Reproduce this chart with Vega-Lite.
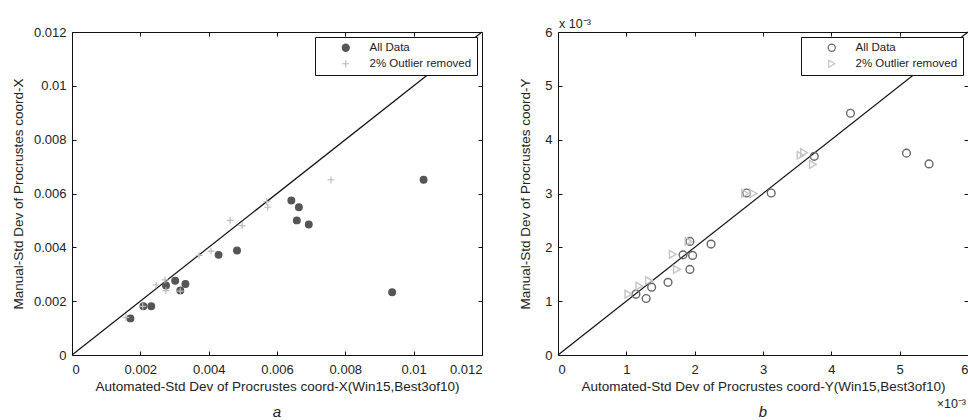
{
  "$schema": "https://vega.github.io/schema/vega-lite/v6.json",
  "padding": {"left": 10, "top": 17, "right": 0, "bottom": 0},
  "background": "white",
  "bounds": "flush",
  "spacing": 76,
  "config": {
    "font": "Liberation Sans",
    "view": {"stroke": "#111", "strokeWidth": 1},
    "axis": {
      "grid": false,
      "domain": false,
      "tickSize": -4,
      "tickColor": "#111",
      "labelFont": "Liberation Sans",
      "labelFontSize": 13,
      "labelColor": "#222",
      "titleFont": "Liberation Sans",
      "titleFontSize": 13.5,
      "titleFontWeight": "normal",
      "titleColor": "#222",
      "format": "~g"
    },
    "axisX": {"labelPadding": 12, "titlePadding": 3},
    "axisY": {"labelPadding": 10, "titlePadding": 8},
    "legend": {
      "orient": "top-right",
      "offset": 5,
      "strokeColor": "#111",
      "fillColor": "white",
      "padding": 5,
      "rowPadding": 3,
      "labelFont": "Liberation Sans",
      "labelFontSize": 11.5,
      "labelColor": "#222",
      "symbolSize": 50,
      "symbolStrokeWidth": 1.2,
      "symbolOffset": 20,
      "labelOffset": 18,
      "cornerRadius": 0
    }
  },
  "hconcat": [
    {
      "width": 410,
      "height": 323,
      "layer": [
        {
          "data": {"values": [{}]},
          "mark": {"type": "rule", "color": "#111", "strokeWidth": 1.2},
          "encoding": {
            "x": {"datum": 0, "type": "quantitative", "scale": {"domain": [0, 0.012], "nice": false},
                  "axis": {"orient": "top", "labels": false, "title": null, "values": [0, 0.002, 0.004, 0.006, 0.008, 0.01, 0.012]}},
            "y": {"datum": 0, "type": "quantitative", "scale": {"domain": [0, 0.012], "nice": false},
                  "axis": {"orient": "right", "labels": false, "title": null, "values": [0, 0.002, 0.004, 0.006, 0.008, 0.01, 0.012]}},
            "x2": {"datum": 0.012},
            "y2": {"datum": 0.012}
          }
        },
        {
          "data": {"values": [{}]},
          "mark": {"type": "text", "align": "center", "baseline": "middle", "dy": 57, "fontSize": 15, "fontStyle": "italic", "color": "#222", "font": "Liberation Sans"},
          "encoding": {
            "x": {"datum": 0.006, "type": "quantitative", "axis": null},
            "y": {"datum": 0, "type": "quantitative", "axis": null},
            "text": {"value": "a"}
          }
        },
        {
          "data": {"values": [
            {"series": "All Data", "x": 0.00171, "y": 0.00136},
            {"series": "All Data", "x": 0.00209, "y": 0.00181},
            {"series": "All Data", "x": 0.00232, "y": 0.00181},
            {"series": "All Data", "x": 0.00275, "y": 0.00258},
            {"series": "All Data", "x": 0.00302, "y": 0.00276},
            {"series": "All Data", "x": 0.00317, "y": 0.0024},
            {"series": "All Data", "x": 0.00332, "y": 0.00264},
            {"series": "All Data", "x": 0.00429, "y": 0.00372},
            {"series": "All Data", "x": 0.00483, "y": 0.00388},
            {"series": "All Data", "x": 0.00642, "y": 0.00574},
            {"series": "All Data", "x": 0.00664, "y": 0.00549},
            {"series": "All Data", "x": 0.00658, "y": 0.005},
            {"series": "All Data", "x": 0.00693, "y": 0.00485},
            {"series": "All Data", "x": 0.00937, "y": 0.00233},
            {"series": "All Data", "x": 0.01029, "y": 0.00651},
            {"series": "2% Outlier removed", "x": 0.00158, "y": 0.0014},
            {"series": "2% Outlier removed", "x": 0.00207, "y": 0.00181},
            {"series": "2% Outlier removed", "x": 0.00246, "y": 0.0026},
            {"series": "2% Outlier removed", "x": 0.00272, "y": 0.00279},
            {"series": "2% Outlier removed", "x": 0.00275, "y": 0.00239},
            {"series": "2% Outlier removed", "x": 0.00317, "y": 0.00237},
            {"series": "2% Outlier removed", "x": 0.00372, "y": 0.0037},
            {"series": "2% Outlier removed", "x": 0.00407, "y": 0.00386},
            {"series": "2% Outlier removed", "x": 0.00463, "y": 0.005},
            {"series": "2% Outlier removed", "x": 0.00498, "y": 0.00481},
            {"series": "2% Outlier removed", "x": 0.0057, "y": 0.0057},
            {"series": "2% Outlier removed", "x": 0.00573, "y": 0.00549},
            {"series": "2% Outlier removed", "x": 0.00758, "y": 0.00651}
          ]},
          "mark": {"type": "point", "opacity": 1, "strokeWidth": 1.2},
          "encoding": {
            "x": {"field": "x", "type": "quantitative", "scale": {"domain": [0, 0.012], "nice": false},
                  "axis": {"title": "Automated-Std Dev of Procrustes coord-X(Win15,Best3of10)", "values": [0, 0.002, 0.004, 0.006, 0.008, 0.01, 0.012]}},
            "y": {"field": "y", "type": "quantitative", "scale": {"domain": [0, 0.012], "nice": false},
                  "axis": {"title": "Manual-Std Dev of Procrustes coord-X", "values": [0, 0.002, 0.004, 0.006, 0.008, 0.01, 0.012]}},
            "fill": {"field": "series", "type": "nominal",
                     "scale": {"domain": ["All Data", "2% Outlier removed"], "range": ["#555555", "transparent"]},
                     "legend": {"title": null}},
            "stroke": {"field": "series", "type": "nominal",
                       "scale": {"domain": ["All Data", "2% Outlier removed"], "range": ["#555555", "#bbbbbb"]},
                       "legend": {"title": null}},
            "shape": {"field": "series", "type": "nominal",
                      "scale": {"domain": ["All Data", "2% Outlier removed"], "range": ["circle", "M-1,0L1,0M0,-1L0,1"]},
                      "legend": {"title": null}},
            "size": {"value": 45}
          }
        }
      ],
      "resolve": {"axis": {"x": "independent", "y": "independent"}}
    },
    {
      "width": 410,
      "height": 323,
      "layer": [
        {
          "data": {"values": [{}]},
          "mark": {"type": "rule", "color": "#111", "strokeWidth": 1.2},
          "encoding": {
            "x": {"datum": 0, "type": "quantitative", "scale": {"domain": [0, 6], "nice": false},
                  "axis": {"orient": "top", "labels": false, "title": null, "values": [0, 1, 2, 3, 4, 5, 6]}},
            "y": {"datum": 0, "type": "quantitative", "scale": {"domain": [0, 6], "nice": false},
                  "axis": {"orient": "right", "labels": false, "title": null, "values": [0, 1, 2, 3, 4, 5, 6]}},
            "x2": {"datum": 6},
            "y2": {"datum": 6}
          }
        },
        {
          "data": {"values": [{}]},
          "mark": {"type": "text", "align": "left", "baseline": "middle", "dy": -8, "dx": 1, "fontSize": 12.5, "color": "#222", "font": "Liberation Sans"},
          "encoding": {
            "x": {"datum": 0, "type": "quantitative", "axis": null},
            "y": {"datum": 6, "type": "quantitative", "axis": null},
            "text": {"value": "x 10⁻³"}
          }
        },
        {
          "data": {"values": [{}]},
          "mark": {"type": "text", "align": "right", "baseline": "middle", "dy": 49, "dx": -2, "fontSize": 12.5, "color": "#222", "font": "Liberation Sans"},
          "encoding": {
            "x": {"datum": 6, "type": "quantitative", "axis": null},
            "y": {"datum": 0, "type": "quantitative", "axis": null},
            "text": {"value": "×10⁻³"}
          }
        },
        {
          "data": {"values": [{}]},
          "mark": {"type": "text", "align": "center", "baseline": "middle", "dy": 57, "fontSize": 15, "fontStyle": "italic", "color": "#222", "font": "Liberation Sans"},
          "encoding": {
            "x": {"datum": 3, "type": "quantitative", "axis": null},
            "y": {"datum": 0, "type": "quantitative", "axis": null},
            "text": {"value": "b"}
          }
        },
        {
          "data": {"values": [
            {"series": "All Data", "x": 1.14, "y": 1.13},
            {"series": "All Data", "x": 1.29, "y": 1.05},
            {"series": "All Data", "x": 1.37, "y": 1.26},
            {"series": "All Data", "x": 1.61, "y": 1.35},
            {"series": "All Data", "x": 1.83, "y": 1.86},
            {"series": "All Data", "x": 1.93, "y": 2.11},
            {"series": "All Data", "x": 1.97, "y": 1.85},
            {"series": "All Data", "x": 1.93, "y": 1.59},
            {"series": "All Data", "x": 2.24, "y": 2.06},
            {"series": "All Data", "x": 2.76, "y": 3.01},
            {"series": "All Data", "x": 3.12, "y": 3.01},
            {"series": "All Data", "x": 3.75, "y": 3.69},
            {"series": "All Data", "x": 4.28, "y": 4.49},
            {"series": "All Data", "x": 5.1, "y": 3.75},
            {"series": "All Data", "x": 5.43, "y": 3.55},
            {"series": "2% Outlier removed", "x": 1.03, "y": 1.13},
            {"series": "2% Outlier removed", "x": 1.19, "y": 1.28},
            {"series": "2% Outlier removed", "x": 1.33, "y": 1.38},
            {"series": "2% Outlier removed", "x": 1.68, "y": 1.87},
            {"series": "2% Outlier removed", "x": 1.74, "y": 1.59},
            {"series": "2% Outlier removed", "x": 1.91, "y": 2.11},
            {"series": "2% Outlier removed", "x": 2.74, "y": 3.0},
            {"series": "2% Outlier removed", "x": 2.86, "y": 3.0},
            {"series": "2% Outlier removed", "x": 3.55, "y": 3.71},
            {"series": "2% Outlier removed", "x": 3.6, "y": 3.76},
            {"series": "2% Outlier removed", "x": 3.73, "y": 3.54}
          ]},
          "mark": {"type": "point", "opacity": 1, "strokeWidth": 1.4},
          "encoding": {
            "x": {"field": "x", "type": "quantitative", "scale": {"domain": [0, 6], "nice": false},
                  "axis": {"title": "Automated-Std Dev of Procrustes coord-Y(Win15,Best3of10)", "values": [0, 1, 2, 3, 4, 5, 6]}},
            "y": {"field": "y", "type": "quantitative", "scale": {"domain": [0, 6], "nice": false},
                  "axis": {"title": "Manual-Std Dev of Procrustes coord-Y", "values": [0, 1, 2, 3, 4, 5, 6], "titlePadding": 12, "labelPadding": 10}},
            "fill": {"value": "transparent"},
            "stroke": {"field": "series", "type": "nominal",
                       "scale": {"domain": ["All Data", "2% Outlier removed"], "range": ["#666666", "#c4c4c4"]},
                       "legend": {"title": null}},
            "shape": {"field": "series", "type": "nominal",
                      "scale": {"domain": ["All Data", "2% Outlier removed"], "range": ["circle", "triangle-right"]},
                      "legend": {"title": null}},
            "size": {"value": 60}
          }
        }
      ],
      "resolve": {"axis": {"x": "independent", "y": "independent"}}
    }
  ],
  "resolve": {
    "scale": {"fill": "independent", "stroke": "independent", "shape": "independent"},
    "legend": {"fill": "independent", "stroke": "independent", "shape": "independent"}
  }
}
